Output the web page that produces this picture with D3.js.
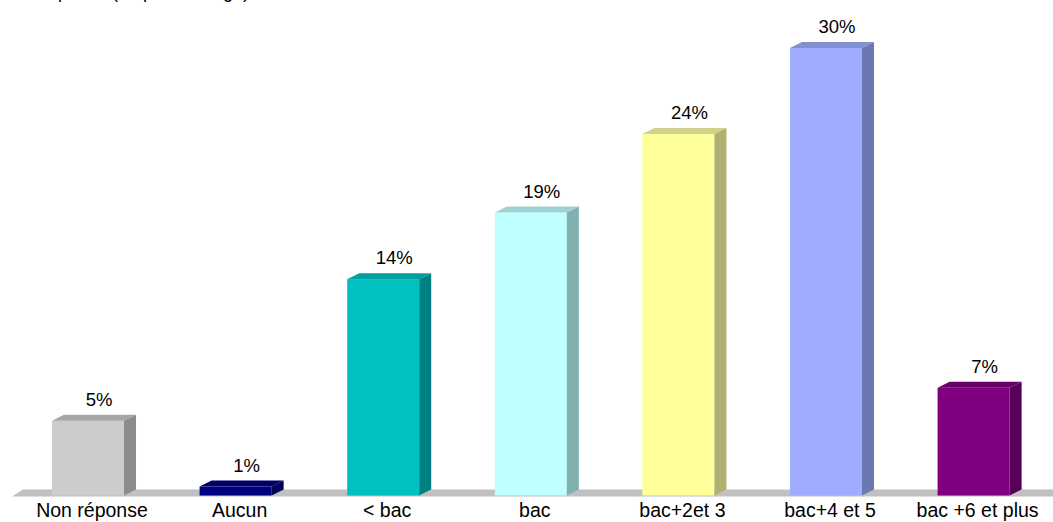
<!DOCTYPE html>
<html>
<head>
<meta charset="utf-8">
<script src="https://cdn.jsdelivr.net/npm/d3@7/dist/d3.min.js"></script>
<style>
  html, body { margin: 0; padding: 0; background: #ffffff; }
  svg { display: block; font-family: Arial, "Liberation Sans", sans-serif; }
</style>
</head>
<body>
<svg id="chart" width="1053" height="522"></svg>
<script>
const categories = ["Non réponse", "Aucun", "< bac", "bac", "bac+2et 3", "bac+4 et 5", "bac +6 et plus"];
const values = [5.0, 0.6, 14.45, 18.9, 24.15, 29.9, 7.2];
const valueLabels = ["5%", "1%", "14%", "19%", "24%", "30%", "7%"];
const frontColors = ["#cccccc", "#000080", "#00c0c0", "#c0ffff", "#ffff99", "#a0acff", "#800080"];
const topColors   = ["#a6a6a6", "#00006a", "#00a0a0", "#9ed2d2", "#d2d28a", "#8090d0", "#680068"];
const sideColors  = ["#8c8c8c", "#000058", "#008080", "#80b0b0", "#b0b070", "#6c78b0", "#580058"];
const titleText = "Niveau de diplôme (en pourcentage)";

const svg = d3.select("#chart");
const dx = 12, dy = -6;

const x = d3.scaleBand()
  .domain(categories)
  .range([14.2, 1047.4])
  .paddingInner(0.512)
  .paddingOuter(0.256);

const y = d3.scaleLinear()
  .domain([0, 30])
  .range([495.5, 46.4]);

// title, cut by the top edge as in the reference
svg.append("text")
  .attr("x", 249)
  .attr("y", -2.5)
  .attr("text-anchor", "end")
  .attr("font-size", 18)
  .attr("fill", "#000")
  .text(titleText);

// floor
const base = y(0);
svg.append("path")
  .attr("d", `M12,${base + 1}L${12 + 11},${base - 6}L1053,${base - 6}L1053,${base + 1}Z`)
  .attr("fill", "#c0c0c0");

const bars = svg.append("g").selectAll("g")
  .data(categories.map((c, i) => ({ c, v: values[i], i })))
  .join("g");

// front
bars.append("rect")
  .attr("x", d => x(d.c))
  .attr("y", d => y(d.v))
  .attr("width", x.bandwidth())
  .attr("height", d => base - y(d.v))
  .attr("fill", d => frontColors[d.i]);

// top face
bars.append("path")
  .attr("d", d => {
    const x0 = x(d.c), x1 = x0 + x.bandwidth(), t = y(d.v);
    return `M${x0},${t}L${x0 + dx},${t + dy}L${x1 + dx},${t + dy}L${x1},${t}Z`;
  })
  .attr("fill", d => topColors[d.i]);

// side face
bars.append("path")
  .attr("d", d => {
    const x1 = x(d.c) + x.bandwidth(), t = y(d.v);
    return `M${x1},${t}L${x1 + dx},${t + dy}L${x1 + dx},${base + dy}L${x1},${base}Z`;
  })
  .attr("fill", d => sideColors[d.i]);

// value labels
bars.append("text")
  .attr("x", d => x(d.c) + x.bandwidth() / 2 + 11)
  .attr("y", d => y(d.v) - 15)
  .attr("text-anchor", "middle")
  .attr("font-size", 18.5)
  .attr("fill", "#000")
  .text(d => valueLabels[d.i]);

// category axis labels
svg.append("g").selectAll("text")
  .data(categories)
  .join("text")
  .attr("x", d => x(d) + x.bandwidth() / 2 + 4)
  .attr("y", 517)
  .attr("text-anchor", "middle")
  .attr("font-size", 19.5)
  .attr("fill", "#000")
  .text(d => d);
</script>
</body>
</html>
